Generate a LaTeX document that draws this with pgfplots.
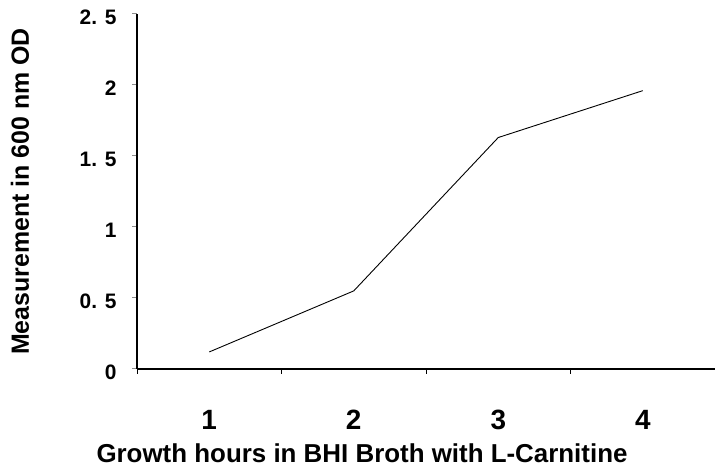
\documentclass[border=0pt]{standalone}
\usepackage{fontspec}
\setmainfont{Liberation Sans}
\usepackage{pgfplots}
\pgfplotsset{compat=1.18}
\begin{document}
\begin{tikzpicture}[x=1bp,y=1bp]
\useasboundingbox (0,0) rectangle (715,469);
\begin{axis}[
    at={(137bp,100bp)}, anchor=south west,
    scale only axis, width=578bp, height=355bp,
    xmin=0.5, xmax=4.5, ymin=0, ymax=2.5,
    axis x line*=bottom, axis y line*=left,
    axis line style={line width=1.2bp, -},
    tick align=outside,
    xtick={1,2,3,4},
    xticklabels={1,2,3,4},
    major x tick style={draw=none},
    minor xtick={0.5,1.5,2.5,3.5,4.5},
    minor tick length=5bp,
    minor x tick style={line width=1bp, black},
    ytick={0,0.5,1,1.5,2,2.5},
    yticklabels={0, 0. 5, 1, 1. 5, 2, 2. 5},
    major tick length=5bp,
    major y tick style={line width=1bp, black!45},
    xticklabel style={font=\fontsize{28}{30}\selectfont\bfseries, yshift=-33bp},
    yticklabel style={font=\fontsize{21}{23}\selectfont\bfseries, xshift=-12bp, yshift=-3bp},
    xlabel={Growth hours in BHI Broth with L-Carnitine},
    xlabel style={font=\fontsize{26}{28}\selectfont\bfseries,
        at={(axis description cs:0,0)}, anchor=base, xshift=225bp, yshift=-94bp},
    ylabel={Measurement in 600 nm OD},
    ylabel style={font=\fontsize{25}{28}\selectfont\bfseries,
        at={(axis description cs:0,0.5)}, anchor=center, yshift=117bp},
    clip=false,
]
\addplot[black, line width=0.9bp, mark=none] coordinates {
    (1, 0.12)
    (2, 0.55)
    (3, 1.63)
    (4, 1.96)
};
\end{axis}
\end{tikzpicture}
\end{document}
